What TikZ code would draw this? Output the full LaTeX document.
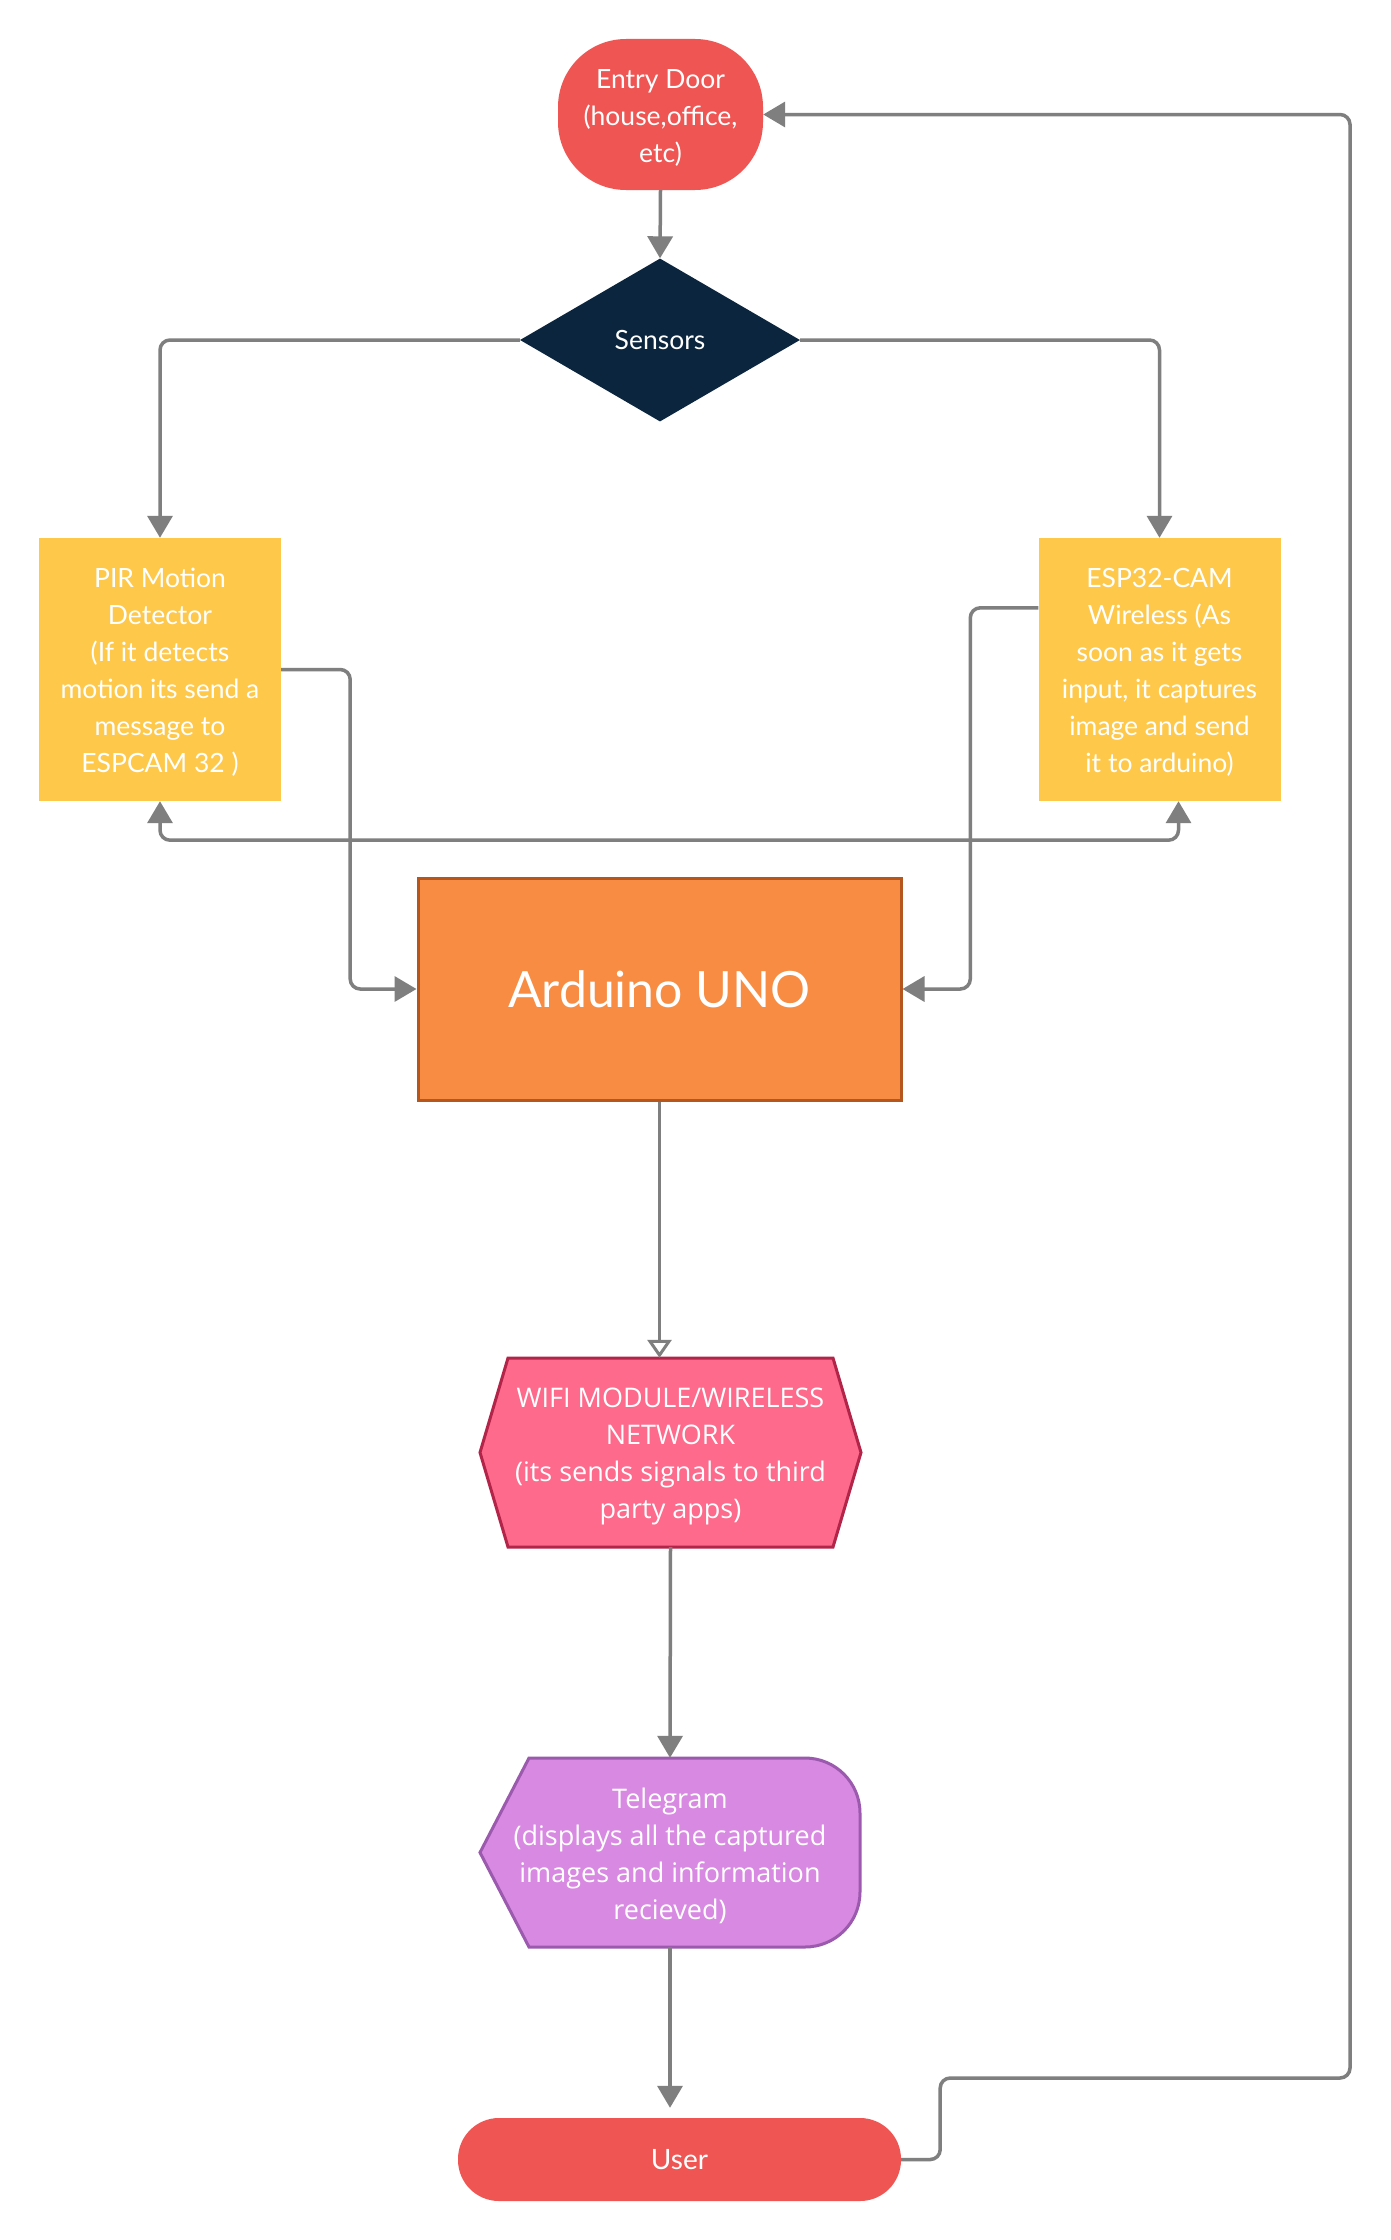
\documentclass[tikz,border=0pt]{standalone}
\usepackage{fontspec}
\setmainfont{Lato}
\newfontfamily\osans{Open Sans}
\usetikzlibrary{arrows.meta,shapes.geometric,calc}
\definecolor{conngray}{HTML}{7F7F7F}
\definecolor{doorred}{HTML}{EF5552}
\definecolor{navy}{HTML}{0A253D}
\definecolor{sensyellow}{HTML}{FEC84B}
\definecolor{ardorange}{HTML}{F78C42}
\definecolor{ardborder}{HTML}{B5561E}
\definecolor{wifipink}{HTML}{FD6A8C}
\definecolor{wifiborder}{HTML}{B32449}
\definecolor{telepurple}{HTML}{D889E2}
\definecolor{teleborder}{HTML}{9B5AAE}
\begin{document}
\begin{tikzpicture}[x=1pt,y=1pt,
  conn/.style={draw=conngray, line width=3.5pt, rounded corners=10pt, -{Triangle[width=25pt,length=22pt]}},
  connopen/.style={draw=conngray, line width=3pt, -{Triangle[open,width=24pt,length=18pt,fill=white]}},
  lato/.style={font=\fontsize{26.5}{37}\selectfont, text=white, align=center, inner sep=0pt},
  opens/.style={font=\osans\fontsize{27}{37}\selectfont, text=white, align=center, inner sep=0pt},
  yellowbox/.style={lato, fill=sensyellow, minimum width=242pt, minimum height=263pt}
]
\fill[white] (0,0) rectangle (1391,-2240);
\useasboundingbox (0,0) rectangle (1391,-2240);

% Entry door
\node[lato, fill=doorred, rounded corners=68pt, minimum width=205pt, minimum height=151pt,
      font=\fontsize{26.5}{37}\selectfont] (entry) at (660.5,-114.5)
  {\rule{0pt}{25pt}Entry Door\\(house,office,\\etc)};

% Sensors diamond
\node[diamond, aspect=1.72, fill=navy, text=white, inner sep=0pt,
      minimum width=280pt, minimum height=163pt, font=\fontsize{26.5}{30}\selectfont]
  (sensors) at (660,-340) {Sensors};

% PIR and ESP
\node[yellowbox] (pir) at (160,-669.5)
  {\rule{0pt}{25pt}PIR Motion\\Detector\\(If it detects\\motion its send a\\message to\\ESPCAM 32 )};
\node[yellowbox] (esp) at (1159.5,-669.5)
  {\rule{0pt}{25pt}ESP32-CAM\\Wireless (As\\soon as it gets\\input, it captures\\image and send\\it to arduino)};

% Arduino
\node[lato, fill=ardorange, draw=ardborder, line width=3pt, minimum width=483pt, minimum height=222pt,
      font=\fontsize{50}{58}\selectfont] (ard) at (659.5,-989) {Arduino UNO};

% WIFI hexagon
\filldraw[fill=wifipink, draw=wifiborder, line width=3pt, line join=miter]
  (480,-1452.5) -- (508,-1358) -- (833,-1358) -- (861,-1452.5) -- (833,-1547) -- (508,-1547) -- cycle;
\node[opens, minimum width=381pt, minimum height=189pt] (wifi) at (670.5,-1452.5)
  {\rule{0pt}{27pt}WIFI MODULE/WIRELESS\\NETWORK\\(its sends signals to third\\party apps)};

% Telegram display shape
\filldraw[fill=telepurple, draw=teleborder, line width=3pt]
  (480,-1852.5) -- (529,-1758) -- (805,-1758) arc[start angle=90,end angle=0,radius=55]
  -- (860,-1892) arc[start angle=0,end angle=-90,radius=55] -- (529,-1947) -- cycle;
\node[opens, minimum width=380pt, minimum height=189pt] (tele) at (670,-1852.5)
  {\rule{0pt}{27pt}Telegram\\(displays all the captured\\images and information\\recieved)};

% User
\node[lato, fill=doorred, rounded corners=41pt, minimum width=443pt, minimum height=83pt,
      font=\fontsize{28}{32}\selectfont] (user) at (679.5,-2159.5) {User};

% Connectors
\coordinate (espin) at ($(esp.north west)+(0,-70)$);
\coordinate (espbot) at ($(esp.south)+(19,0)$);
\draw[conn] (entry.south) -- (sensors.north);
\draw[conn] (sensors.west) -| (pir.north);
\draw[conn] (sensors.east) -| (esp.north);
\draw[conn] (pir.east) -- ++(69,0) |- (ard.west);
\draw[conn] (espin) -- ++(-68,0) |- (ard.east);
\draw[conn, {Triangle[width=25pt,length=22pt]}-{Triangle[width=25pt,length=22pt]}]
  (pir.south) -- ++(0,-39) -| (espbot);
\draw[connopen] (ard.south) -- (ard.south |- wifi.north);
\draw[conn] (wifi.south) -- (tele.north);
\draw[conn, shorten >=10pt] (tele.south) -- (tele.south |- user.north);
\draw[conn] (user.east) -- ++(39,0) |- (1350,-2078) |- (entry.east);
\end{tikzpicture}
\end{document}
